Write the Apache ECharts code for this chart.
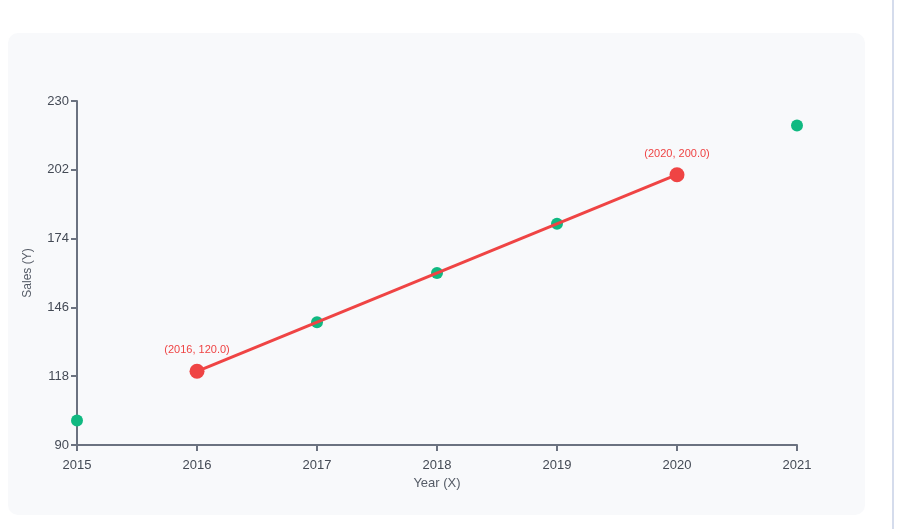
<!DOCTYPE html>
<html><head><meta charset="utf-8">
<script src="https://cdn.jsdelivr.net/npm/echarts@6/dist/echarts.min.js"></script>
<style>html,body{margin:0;padding:0;background:#fff}#c{width:903px;height:529px}</style>
</head><body><div id="c"></div>
<script>
const pointX = [2015, 2017, 2018, 2019, 2021];
const pointY = [100, 140, 160, 180, 220];
const lineX = [2016, 2020];
const lineY = [120, 200];
const yTicks = [90, 118, 146, 174, 202, 230];

const chart = echarts.init(document.getElementById('c'));
chart.setOption({
  animation: false,
  backgroundColor: '#ffffff',
  graphic: [
    {type:'rect', z:-10, shape:{x:8,y:33,width:857,height:482,r:10}, style:{fill:'#f8f9fb'}},
    {type:'rect', z:-10, shape:{x:892,y:0,width:2,height:529}, style:{fill:'#d5dcec'}}
  ],
  grid: {left:77, right:106, top:101, bottom:84},
  xAxis: {
    type:'value', min:2015, max:2021, interval:1,
    name:'Year (X)', nameLocation:'middle', nameGap:21,
    nameTextStyle:{color:'#555b66', fontSize:13},
    axisLine:{lineStyle:{color:'#6b7280', width:2}},
    axisTick:{show:true, length:6, lineStyle:{color:'#6b7280', width:2}},
    axisLabel:{color:'#444a55', fontSize:13, margin:14, formatter:v=>String(v)},
    splitLine:{show:false}
  },
  yAxis: {
    type:'value', min:yTicks[0], max:yTicks[yTicks.length-1], interval:28,
    name:'Sales (Y)', nameLocation:'middle', nameGap:43,
    nameTextStyle:{color:'#555b66', fontSize:12},
    axisLine:{show:true, lineStyle:{color:'#6b7280', width:2}},
    axisTick:{show:true, length:6, lineStyle:{color:'#6b7280', width:2}},
    axisLabel:{color:'#444a55', fontSize:13},
    splitLine:{show:false}
  },
  series: [
    {type:'scatter', data:pointX.map((x,i)=>[x,pointY[i]]), symbolSize:12,
     itemStyle:{color:'#10b981', opacity:1}},
    {type:'line', data:lineX.map((x,i)=>[x,lineY[i]]), symbol:'circle', symbolSize:15,
     lineStyle:{color:'#ef4444', width:3}, itemStyle:{color:'#ef4444'},
     label:{show:true, position:'top', distance:8, color:'#ef4444', fontSize:11,
       formatter:p=>'('+p.value[0]+', '+p.value[1].toFixed(1)+')'}}
  ]
});
</script></body></html>
